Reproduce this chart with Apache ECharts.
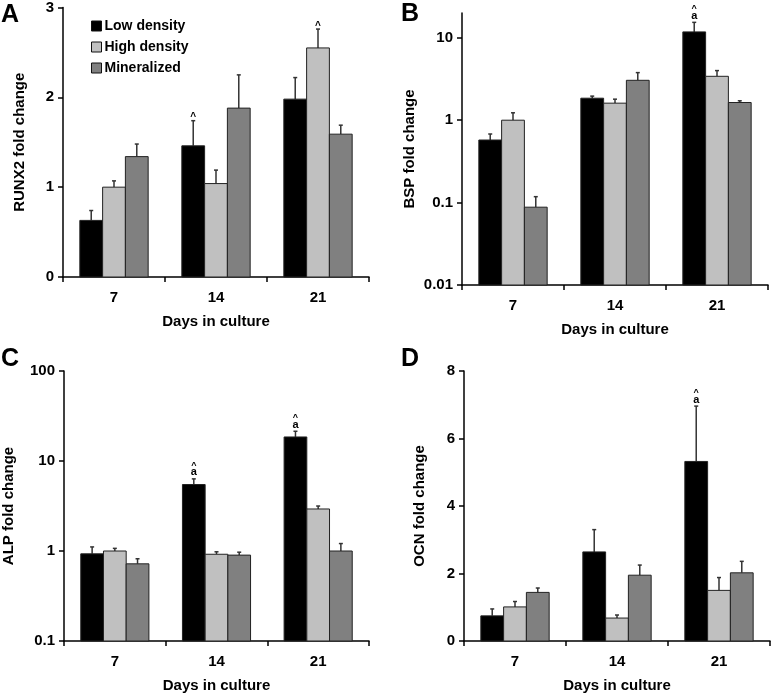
<!DOCTYPE html>
<html>
<head>
<meta charset="utf-8">
<script src="https://cdn.jsdelivr.net/npm/echarts@6/dist/echarts.min.js"></script>
<style>
  html, body { margin: 0; padding: 0; background: #fff; }
  #main { width: 771px; height: 694px; }
</style>
</head>
<body>
<div id="main"></div>
<script>
// days and groups
var days = ['7', '14', '21'];
var groups = ['Low density', 'High density', 'Mineralized'];
var colors = ['#000000', '#c0c0c0', '#808080'];

// bar heights, one row per group (low, high, mineralized), one column per day
var runx2 = [[0.63, 1.46, 1.98], [1.0, 1.04, 2.55], [1.34, 1.88, 1.59]];
var runx2Upper = [[0.74, 1.74, 2.22], [1.07, 1.19, 2.76], [1.48, 2.25, 1.69]];
var runx2Marks = [['', '^', ''], ['', '', '^'], ['', '', '']];

var bsp = [[0.575, 1.85, 11.8], [1.0, 1.61, 3.41], [0.088, 3.05, 1.64]];
var bspUpper = [[0.68, 1.96, 15.4], [1.23, 1.80, 4.0], [0.118, 3.78, 1.72]];
var bspMarks = [['', '', '^a'], ['', '', ''], ['', '', '']];

var alp = [[0.93, 5.48, 18.5], [1.0, 0.92, 2.93], [0.72, 0.90, 1.0]];
var alpUpper = [[1.11, 6.33, 21.4], [1.07, 0.98, 3.16], [0.82, 0.97, 1.21]];
var alpMarks = [['', '^a', '^a'], ['', '', ''], ['', '', '']];

var ocn = [[0.745, 2.64, 5.32], [1.01, 0.68, 1.50], [1.44, 1.95, 2.02]];
var ocnUpper = [[0.95, 3.30, 6.96], [1.17, 0.77, 1.88], [1.57, 2.25, 2.36]];
var ocnMarks = [['', '', '^a'], ['', '', ''], ['', '', '']];

var panels = [
  { vals: runx2, upper: runx2Upper, marks: runx2Marks },
  { vals: bsp, upper: bspUpper, marks: bspMarks },
  { vals: alp, upper: alpUpper, marks: alpMarks },
  { vals: ocn, upper: ocnUpper, marks: ocnMarks }
];

var font = 'Liberation Sans, Arial, Helvetica, sans-serif';

var grids = [
  { left: 63, top: 7, width: 306, height: 270 },
  { left: 462, top: 13, width: 306, height: 272 },
  { left: 63, top: 371, width: 306, height: 272 },
  { left: 464, top: 371, width: 306, height: 272 }
];

var axisLine = { lineStyle: { color: '#000', width: 1.5 } };
var tickStyle = { show: true, length: 5, lineStyle: { color: '#000', width: 1.5 } };
var labelStyle = { color: '#000', fontWeight: 'bold', fontSize: 15, fontFamily: font };
var nameStyle = { color: '#000', fontWeight: 'bold', fontSize: 15, fontFamily: font };

var xAxes = grids.map(function (g, i) {
  return {
    type: 'category', gridIndex: i, data: days,
    name: 'Days in culture', nameLocation: 'middle', nameGap: 37,
    nameTextStyle: nameStyle,
    axisLine: axisLine, axisTick: tickStyle,
    axisLabel: Object.assign({ margin: 13 }, labelStyle)
  };
});

var yNames = ['RUNX2 fold change', 'BSP fold change', 'ALP fold change', 'OCN fold change'];
var yGaps = [36, 45, 48, 37];
var yAxes = [
  { type: 'value', min: 0, max: 3, interval: 1 },
  { type: 'log', min: 0.01, max: 20, logBase: 10,
    axisLabel: { customValues: [0.01, 0.1, 1, 10] },
    axisTick: { customValues: [0.01, 0.1, 1, 10] } },
  { type: 'log', min: 0.1, max: 100, logBase: 10 },
  { type: 'value', min: 0, max: 8, interval: 2 }
].map(function (ax, i) {
  return Object.assign({}, ax, {
    gridIndex: i,
    name: yNames[i], nameLocation: 'middle', nameGap: yGaps[i],
    nameTextStyle: nameStyle,
    splitLine: { show: false },
    axisLine: Object.assign({ show: true }, axisLine),
    axisTick: Object.assign({}, tickStyle, ax.axisTick || {}),
    axisLabel: Object.assign({ margin: 9 }, labelStyle, ax.axisLabel || {})
  });
});

// bars drawn from the bottom of the plot so log panels look like the original
function makeSeries(p, g) {
  var panel = panels[p];
  var data = days.map(function (d, c) {
    return [c, panel.vals[g][c], panel.upper[g][c]];
  });
  return {
    type: 'custom',
    name: groups[g],
    xAxisIndex: p,
    yAxisIndex: p,
    itemStyle: { color: colors[g], borderColor: '#111', borderWidth: 1 },
    data: data,
    renderItem: function (params, api) {
      var c = api.value(0);
      var top = api.coord([c, api.value(1)]);
      var capY = api.coord([c, api.value(2)])[1];
      var band = api.coord([1, api.value(1)])[0] - api.coord([0, api.value(1)])[0];
      var w = band * 0.67 / 3;
      var cx = top[0] + (g - 1) * w;
      var bottom = params.coordSys.y + params.coordSys.height;
      var children = [
        { type: 'line', shape: { x1: cx, y1: top[1], x2: cx, y2: capY },
          style: { stroke: '#333', lineWidth: 1.5 } },
        { type: 'line', shape: { x1: cx - 2, y1: capY, x2: cx + 2, y2: capY },
          style: { stroke: '#333', lineWidth: 1.5 } },
        { type: 'rect', shape: { x: cx - w / 2, y: top[1], width: w, height: bottom - top[1] },
          style: { fill: colors[g], stroke: '#222', lineWidth: 1 } }
      ];
      var mark = panel.marks[g][params.dataIndex];
      if (mark.indexOf('a') >= 0) {
        children.push({ type: 'text', x: cx, y: capY - 1,
          style: { text: 'a', fill: '#000', font: 'bold 11px ' + font, align: 'center', verticalAlign: 'bottom' } });
        children.push({ type: 'text', x: cx, y: capY - 9,
          style: { text: '^', fill: '#000', font: 'bold 9px ' + font, align: 'center', verticalAlign: 'bottom' } });
      } else if (mark === '^') {
        children.push({ type: 'text', x: cx, y: capY + 2,
          style: { text: '^', fill: '#000', font: 'bold 10px ' + font, align: 'center', verticalAlign: 'bottom' } });
      }
      return { type: 'group', children: children };
    }
  };
}

var series = [];
for (var p = 0; p < 4; p++) {
  for (var g = 0; g < 3; g++) series.push(makeSeries(p, g));
}

function letter(txt, x, y) {
  return { type: 'text', left: x, top: y,
    style: { text: txt, fill: '#000', font: 'bold 25px ' + font } };
}

var chart = echarts.init(document.getElementById('main'));
chart.setOption({
  animation: false,
  grid: grids,
  xAxis: xAxes,
  yAxis: yAxes,
  legend: {
    data: groups,
    orient: 'vertical',
    left: 86, top: 14,
    itemWidth: 10, itemHeight: 10, itemGap: 7,
    icon: 'rect',
    itemStyle: { borderColor: '#111', borderWidth: 1 },
    textStyle: { color: '#000', fontWeight: 'bold', fontSize: 14, fontFamily: font, padding: [0, 0, 0, -2] }
  },
  graphic: [
    letter('A', 1, 3),
    letter('B', 401, 2),
    letter('C', 1, 347),
    letter('D', 401, 347)
  ],
  series: series
});
</script>
</body>
</html>
